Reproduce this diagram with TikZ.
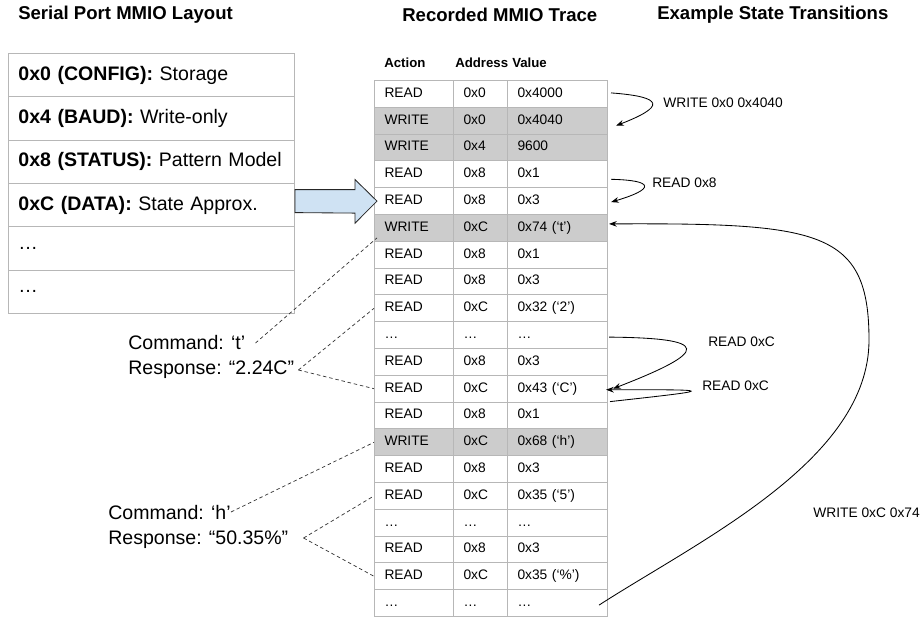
\documentclass[tikz,border=0pt]{standalone}
\usepackage{fontspec}
\setmainfont{Liberation Sans}
\usetikzlibrary{arrows.meta,calc}
\definecolor{gridgray}{RGB}{183,183,183}
\definecolor{rowgray}{RGB}{204,204,204}
\definecolor{feedblue}{RGB}{207,226,243}
\tikzset{
  heading/.style={font=\fontsize{13.2}{15}\selectfont\bfseries, anchor=west, inner sep=0pt},
  regrow/.style={draw=gridgray, line width=0.7pt, anchor=north west, minimum height=1.0825cm, text width=6.65cm, inner xsep=0.25cm, align=left, font=\fontsize{13.9}{16}\selectfont},
  tracecell/.style={draw=gridgray, line width=0.7pt, anchor=north west, fill=#1, minimum height=0.67cm, inner xsep=0.25cm, inner ysep=0pt, text height=7.2pt, text depth=2.4pt, align=left, font=\fontsize{9.8}{12}\selectfont},
  tracecell/.default={white},
  colhead/.style={font=\fontsize{9.4}{12}\selectfont\bfseries, anchor=west, inner sep=0pt},
  annot/.style={font=\fontsize{13.9}{16}\selectfont, anchor=west, inner sep=0pt},
  translabel/.style={font=\fontsize{9.8}{12}\selectfont, anchor=west, inner sep=0pt},
  hop/.style={-{Stealth[length=5.5pt,width=4pt]}, line width=0.6pt},
  dashlink/.style={draw=black!80, line width=0.5pt, dash pattern=on 2.5pt off 2pt},
  feed/.style={draw=black!85, line width=0.6pt, fill=feedblue}
}
\begin{document}
\begin{tikzpicture}[x=0.025cm, y=-0.025cm]
  \useasboundingbox (0,0) rectangle (924,620);
  % column titles
  \node[heading] (regtitle) at (18,15) {Serial Port MMIO Layout};
  \node[heading] (tracetitle) at (402,15) {Recorded MMIO Trace};
  \node[heading] (transtitle) at (657,15) {Example State Transitions};
  % register layout
  \foreach \txt [count=\i] in {{\textbf{0x0 (CONFIG):} Storage}, {\textbf{0x4 (BAUD):} Write-only}, {\textbf{0x8 (STATUS):} Pattern Model}, {\textbf{0xC (DATA):} State Approx.}, \dots, \dots}
    \node[regrow] (reg\i) at (8,{53+(\i-1)*43.3}) {\txt};
  % trace table
  \node[colhead] (hact) at (384,63) {Action};
  \node[colhead] (hadr) at (455,63) {Address};
  \node[colhead] (hval) at (512,63) {Value};
  \foreach \a/\r/\v/\f [count=\i] in {READ/0x0/0x4000/white, WRITE/0x0/0x4040/rowgray, WRITE/0x4/9600/rowgray, READ/0x8/0x1/white, READ/0x8/0x3/white, WRITE/0xC/0x74 (‘t’)/rowgray, READ/0x8/0x1/white, READ/0x8/0x3/white, READ/0xC/0x32 (‘2’)/white, \dots/\dots/\dots/white, READ/0x8/0x3/white, READ/0xC/0x43 (‘C’)/white, READ/0x8/0x1/white, WRITE/0xC/0x68 (‘h’)/rowgray, READ/0x8/0x3/white, READ/0xC/0x35 (‘5’)/white, \dots/\dots/\dots/white, READ/0x8/0x3/white, READ/0xC/0x35 (‘\%’)/white, \dots/\dots/\dots/white} {
    \node[tracecell=\f, text width=1.475cm] (act\i) at (374,{80+(\i-1)*26.8}) {\a};
    \node[tracecell=\f, text width=0.85cm] (adr\i) at (453,{80+(\i-1)*26.8}) {\r};
    \node[tracecell=\f, text width=2cm] (val\i) at (507,{80+(\i-1)*26.8}) {\v};
  }
  % layout feeds the trace
  \coordinate (feedtail) at (reg4.east |- act5.west);
  \draw[feed] ($(feedtail)+(0,-11.5)$) -- ++(60,0) -- ++(0,-10) -- ($(act5.west)+(3,0)$)
    -- ($(feedtail)+(60,22)$) -- ++(0,-10) -- ($(feedtail)+(0,11.5)$) -- cycle;
  % commands and responses
  \node[annot] (cmdt) at (128,343) {Command: ‘t’};
  \node[annot] (resp1) at (128,370) {Response: “2.24C”};
  \node[annot] (cmdh) at (108,512) {Command: ‘h’};
  \node[annot] (resp2) at (108,540) {Response: “50.35\%”};
  \draw[dashlink] ($(cmdt.east)+(10,0)$) -- ($(act6.west)+(3,10)$);
  \draw[dashlink] ($(resp1.east)+(4,0)$) -- (act9.west);
  \draw[dashlink] ($(resp1.east)+(4,0)$) -- (act12.west);
  \draw[dashlink] (cmdh.east) -- (act14.west);
  \draw[dashlink] ($(resp2.east)+(15,-2)$) -- (act16.west);
  \draw[dashlink] ($(resp2.east)+(15,-2)$) -- (act19.west);
  % state transitions
  \draw[hop] ($(val1.east)+(3,-1)$) .. controls +(54,4) and +(49,-19) .. ($(val2.east)+(8,5)$);
  \draw[hop] ($(val4.east)+(3,5)$) .. controls +(44,1) and +(44,-13) .. ($(val5.east)+(3,1)$);
  \draw[hop] ($(val10.east)+(1,2)$) .. controls +(102,1) and +(98,-38) .. ($(val12.east)+(5,0)$);
  \draw[hop] ($(val13.north east)+(2,0)$) .. controls +(108,-12) and +(112,0) .. ($(val12.east)+(-2,1)$);
  \draw[hop] ($(val20.east)+(-9,2)$) .. controls (700,540) and (869,460) .. (869,340)
    .. controls (869,230) and (820,223) .. ($(val6.east)+(1,-4)$);
  \node[translabel] (t1) at (663,103) {WRITE 0x0 0x4040};
  \node[translabel] (t2) at (652,183) {READ 0x8};
  \node[translabel] (t3) at (708,342) {READ 0xC};
  \node[translabel] (t4) at (702,386) {READ 0xC};
  \node[translabel] (t5) at (813,513) {WRITE 0xC 0x74};
\end{tikzpicture}
\end{document}
